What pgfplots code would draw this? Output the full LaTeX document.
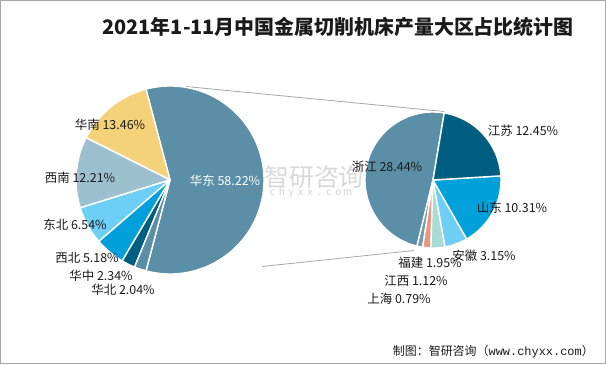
\documentclass[border=0pt]{standalone}
\usepackage{pgfplots}
\pgfplotsset{compat=1.18}
\usepackage{pgfplotstable}
\usepackage{fontspec}
\setmainfont{Noto Sans CJK SC}
\newfontfamily\monofont{Liberation Mono}

\definecolor{cA}{HTML}{5B8FA8}
\definecolor{cB}{HTML}{F5D27A}
\definecolor{cC}{HTML}{9DC0D0}
\definecolor{cD}{HTML}{6DCFF6}
\definecolor{cE}{HTML}{00A0DA}
\definecolor{cF}{HTML}{005E80}
\definecolor{cG}{HTML}{A8DCD5}
\definecolor{cH}{HTML}{F0957D}
\definecolor{cI}{HTML}{6F9DB2}
\definecolor{txt}{HTML}{1A1A1A}
\definecolor{linegray}{HTML}{A6A6A6}

% main pie (percent of total); lx, ly = label position in picture pixels
\pgfplotstableread{
name value color lx ly tc
华东 58.22 cA 225 181 white
华南 13.46 cB 110 125 txt
西南 12.21 cC 80 178 txt
东北 6.54 cD 75 225 txt
西北 5.18 cE 87 258 txt
华中 2.34 cF 101 276 txt
华北 2.04 cA 123 290 txt
}\leftdata

% secondary pie (breakdown of 华东), counter-clockwise order
\pgfplotstableread{
name value color lx ly tc
浙江 28.44 cA 387 167 txt
上海 0.79 cI 399 299 txt
江西 1.12 cH 416 281 txt
福建 1.95 cG 430 263 txt
安徽 3.15 cD 484 256 txt
山东 10.31 cE 512 208 txt
江苏 12.45 cF 523 131 txt
}\rightdata

% #1 table, #2 prefix, #3 start angle, #4 centre x, #5 centre y, #6 radius
\newcommand\prepie[6]{%
  \pgfplotstablegetrowsof{#1}%
  \pgfmathtruncatemacro\nrows{\pgfplotsretval-1}%
  \gdef\tot{0}%
  \foreach \i in {0,...,\nrows}{%
    \pgfplotstablegetelem{\i}{value}\of{#1}%
    \pgfmathsetmacro\t{\tot+\pgfplotsretval}%
    \xdef\tot{\t}%
  }%
  \xdef\cum{#3}%
  \foreach \i in {0,...,\nrows}{%
    \pgfplotstablegetelem{\i}{value}\of{#1}\let\v\pgfplotsretval
    \expandafter\xdef\csname #2v\i\endcsname{\v}%
    \pgfmathsetmacro\a{\cum}%
    \pgfmathsetmacro\b{\cum+\v/\tot*360}%
    \pgfmathsetmacro\sx{#4+#6*cos(\a)}%
    \pgfmathsetmacro\sy{#5+#6*sin(\a)}%
    \expandafter\xdef\csname #2s\i\endcsname{\a}%
    \expandafter\xdef\csname #2e\i\endcsname{\b}%
    \expandafter\xdef\csname #2x\i\endcsname{\sx}%
    \expandafter\xdef\csname #2y\i\endcsname{\sy}%
    \xdef\cum{\b}%
    \pgfplotstablegetelem{\i}{name}\of{#1}%
    \expandafter\xdef\csname #2n\i\endcsname{\pgfplotsretval}%
    \pgfplotstablegetelem{\i}{color}\of{#1}%
    \expandafter\xdef\csname #2c\i\endcsname{\pgfplotsretval}%
    \pgfplotstablegetelem{\i}{tc}\of{#1}%
    \expandafter\xdef\csname #2t\i\endcsname{\pgfplotsretval}%
    \pgfplotstablegetelem{\i}{lx}\of{#1}%
    \expandafter\xdef\csname #2lx\i\endcsname{\pgfplotsretval}%
    \pgfplotstablegetelem{\i}{ly}\of{#1}%
    \pgfmathsetmacro\ly{364-\pgfplotsretval}%
    \expandafter\xdef\csname #2ly\i\endcsname{\ly}%
  }%
}
\prepie{\leftdata}{L}{-104.8}{170}{184}{94}
\prepie{\rightdata}{R}{80.5}{433}{184}{68}

\newcommand\wm[1]{\makebox[9.4bp][c]{#1}}

\begin{document}
\begin{tikzpicture}
\begin{axis}[
  x=1bp, y=1bp,
  xmin=0, xmax=606, ymin=0, ymax=364,
  hide axis, clip=false, scale only axis,
]
% frame
\draw[color=gray!70, line width=1bp] (axis cs:0.5,0.5) rectangle (axis cs:605.5,363.5);
% connector lines
\draw[linegray, line width=0.8bp] (axis cs:186,277.5) -- (axis cs:444,252.5);
\draw[linegray, line width=0.8bp] (axis cs:262,97.5) -- (axis cs:414,113.5);
% main pie
\pgfplotsinvokeforeach{0,...,6}{%
  \fill[fill=\csname Lc#1\endcsname, draw=white, line width=1.4bp, line join=round]
    (axis cs:170,184) -- (axis cs:\csname Lx#1\endcsname,\csname Ly#1\endcsname)
    arc[start angle=\csname Ls#1\endcsname, end angle=\csname Le#1\endcsname, radius=94bp] -- cycle;
}
% secondary pie
\pgfplotsinvokeforeach{0,...,6}{%
  \fill[fill=\csname Rc#1\endcsname, draw=white, line width=1.4bp, line join=round]
    (axis cs:433,184) -- (axis cs:\csname Rx#1\endcsname,\csname Ry#1\endcsname)
    arc[start angle=\csname Rs#1\endcsname, end angle=\csname Re#1\endcsname, radius=68bp] -- cycle;
}
% labels
\pgfplotsinvokeforeach{0,...,6}{%
  \node[text=\csname Lt#1\endcsname, font=\fontsize{12.5}{14}\selectfont, inner sep=0pt]
    at (axis cs:\csname Llx#1\endcsname,\csname Lly#1\endcsname)
    {\csname Ln#1\endcsname\ \csname Lv#1\endcsname\%};
  \node[text=\csname Rt#1\endcsname, font=\fontsize{12.5}{14}\selectfont, inner sep=0pt]
    at (axis cs:\csname Rlx#1\endcsname,\csname Rly#1\endcsname)
    {\csname Rn#1\endcsname\ \csname Rv#1\endcsname\%};
}
% watermark
\node[anchor=west, text=gray, opacity=0.3, font=\fontsize{25}{27}\selectfont, inner sep=0pt]
  at (axis cs:264,187) {智研咨询};
\node[anchor=west, text=gray, opacity=0.35, font=\fontsize{10}{11}\selectfont, inner sep=0pt]
  at (axis cs:230,171) {\wm{w}\wm{w}\wm{w}\wm{.}\wm{c}\wm{h}\wm{y}\wm{x}\wm{x}\wm{.}\wm{c}\wm{o}\wm{m}};
% title
\node[text=txt, font=\fontsize{20}{22}\selectfont\bfseries, inner sep=0pt]
  at (axis cs:338,337) {2021年1-11月中国金属切削机床产量大区占比统计图};
% source
\node[anchor=east, text=txt, font=\fontsize{12}{14}\selectfont, inner sep=0pt]
  at (axis cs:594,12) {制图：智研咨询（{\monofont www.chyxx.com}）};
\end{axis}
\end{tikzpicture}
\end{document}
